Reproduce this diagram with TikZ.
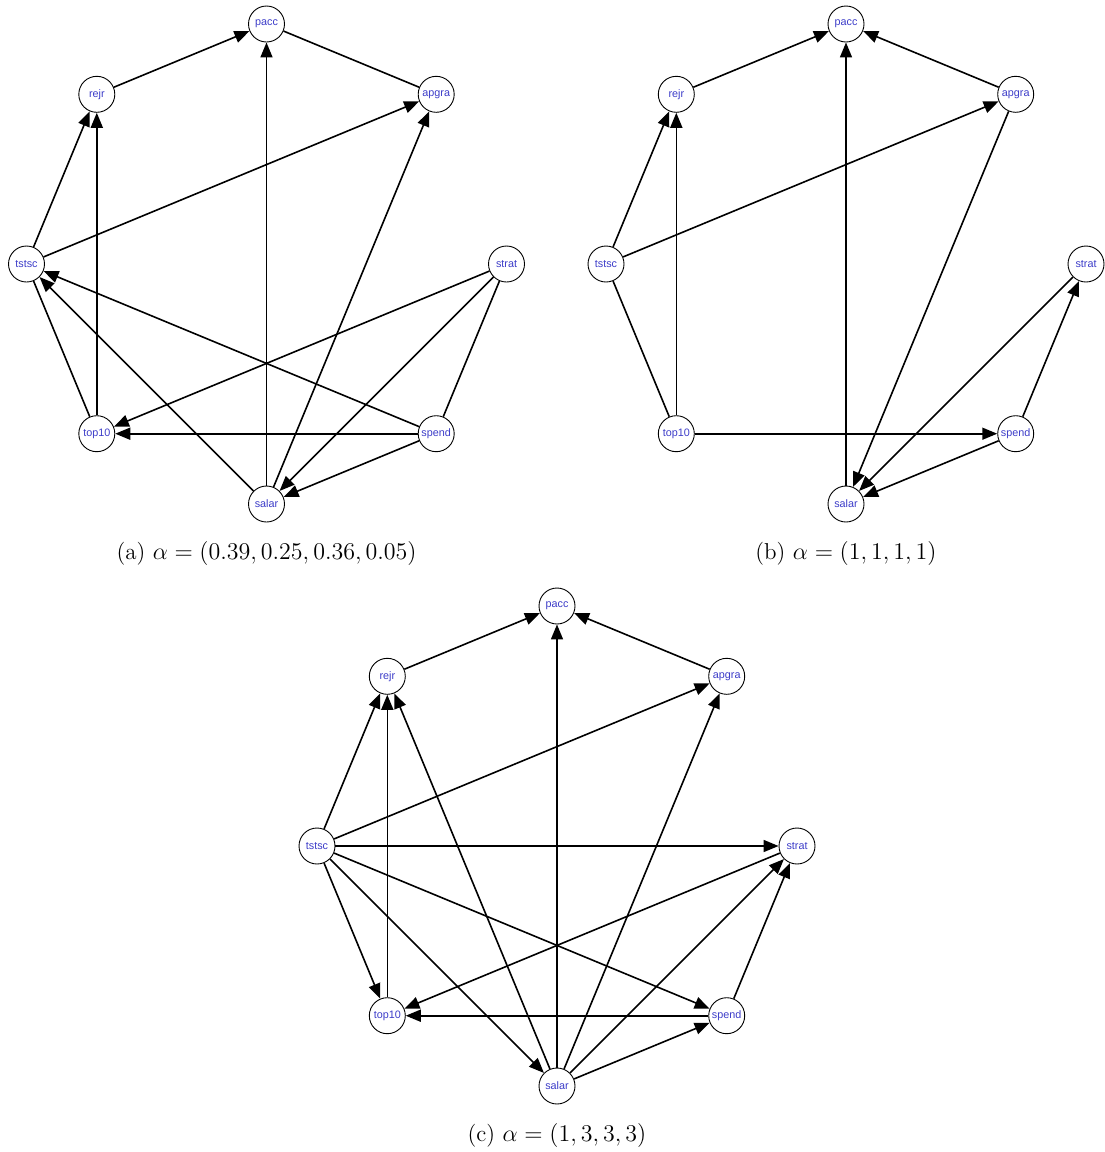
\documentclass[tikz,border=0pt]{standalone}
\usepackage{amsmath}
\usepackage{fontspec}
\newfontfamily\vertexfont{Liberation Sans}
\usepackage{xcolor}
\definecolor{vertexblue}{RGB}{60,60,200}
\usepackage{tikz}
\usetikzlibrary{arrows.meta}

\begin{document}
\begin{tikzpicture}[
    x=0.5pt, y=-0.5pt,
    vertex/.style={draw, circle, line width=0.45pt, minimum size=18pt, inner sep=0pt,
        text=vertexblue, font=\vertexfont\fontsize{5.4}{6.4}\selectfont},
    arc/.style={-{Triangle[length=7.5pt,width=6pt]}, line width=0.8pt},
    link/.style={line width=0.8pt},
    caption/.style={font=\fontsize{11.5}{13.8}\selectfont}
]
\useasboundingbox (0,0) rectangle (1104,1152);

% (a)
\begin{scope}[shift={(266.5,264)}]
\node[vertex] (pacc-a) at (0,-240) {pacc};
\node[vertex] (rejr-a) at (-169.7,-169.7) {rejr};
\node[vertex] (apgra-a) at (169.7,-169.7) {apgra};
\node[vertex] (tstsc-a) at (-240,0) {tstsc};
\node[vertex] (strat-a) at (240,0) {strat};
\node[vertex] (top10-a) at (-169.7,169.7) {top10};
\node[vertex] (spend-a) at (169.7,169.7) {spend};
\node[vertex] (salar-a) at (0,240) {salar};
\node[caption] (cap-a) at (0,289) {(a) $\alpha=(0.39,0.25,0.36,0.05)$};

\draw[arc] (rejr-a) -- (pacc-a);
\draw[link] (pacc-a) -- (apgra-a);
\draw[arc] (salar-a) -- (pacc-a);
\draw[arc] (tstsc-a) -- (rejr-a);
\draw[arc] (top10-a) -- (rejr-a);
\draw[arc] (tstsc-a) -- (apgra-a);
\draw[arc] (salar-a) -- (apgra-a);
\draw[arc] (spend-a) -- (tstsc-a);
\draw[arc] (salar-a) -- (tstsc-a);
\draw[link] (tstsc-a) -- (top10-a);
\draw[arc] (strat-a) -- (top10-a);
\draw[arc] (spend-a) -- (top10-a);
\draw[arc] (strat-a) -- (salar-a);
\draw[arc] (spend-a) -- (salar-a);
\draw[link] (strat-a) -- (spend-a);
\end{scope}

% (b)
\begin{scope}[shift={(846,264)}]
\node[vertex] (pacc-b) at (0,-240) {pacc};
\node[vertex] (rejr-b) at (-169.7,-169.7) {rejr};
\node[vertex] (apgra-b) at (169.7,-169.7) {apgra};
\node[vertex] (tstsc-b) at (-240,0) {tstsc};
\node[vertex] (strat-b) at (240,0) {strat};
\node[vertex] (top10-b) at (-169.7,169.7) {top10};
\node[vertex] (spend-b) at (169.7,169.7) {spend};
\node[vertex] (salar-b) at (0,240) {salar};
\node[caption] (cap-b) at (0,289) {(b) $\alpha=(1,1,1,1)$};

\draw[arc] (rejr-b) -- (pacc-b);
\draw[arc] (apgra-b) -- (pacc-b);
\draw[arc] (salar-b) -- (pacc-b);
\draw[arc] (tstsc-b) -- (rejr-b);
\draw[arc] (top10-b) -- (rejr-b);
\draw[arc] (tstsc-b) -- (apgra-b);
\draw[arc] (apgra-b) -- (salar-b);
\draw[link] (tstsc-b) -- (top10-b);
\draw[arc] (top10-b) -- (spend-b);
\draw[arc] (strat-b) -- (salar-b);
\draw[arc] (spend-b) -- (strat-b);
\draw[arc] (spend-b) -- (salar-b);
\end{scope}

% (c)
\begin{scope}[shift={(557,846)}]
\node[vertex] (pacc-c) at (0,-240) {pacc};
\node[vertex] (rejr-c) at (-169.7,-169.7) {rejr};
\node[vertex] (apgra-c) at (169.7,-169.7) {apgra};
\node[vertex] (tstsc-c) at (-240,0) {tstsc};
\node[vertex] (strat-c) at (240,0) {strat};
\node[vertex] (top10-c) at (-169.7,169.7) {top10};
\node[vertex] (spend-c) at (169.7,169.7) {spend};
\node[vertex] (salar-c) at (0,240) {salar};
\node[caption] (cap-c) at (0,289) {(c) $\alpha=(1,3,3,3)$};

\draw[arc] (rejr-c) -- (pacc-c);
\draw[arc] (apgra-c) -- (pacc-c);
\draw[arc] (salar-c) -- (pacc-c);
\draw[arc] (tstsc-c) -- (rejr-c);
\draw[arc] (top10-c) -- (rejr-c);
\draw[arc] (salar-c) -- (rejr-c);
\draw[arc] (tstsc-c) -- (apgra-c);
\draw[arc] (salar-c) -- (apgra-c);
\draw[arc] (tstsc-c) -- (strat-c);
\draw[arc] (strat-c) -- (top10-c);
\draw[arc] (salar-c) -- (strat-c);
\draw[arc] (spend-c) -- (strat-c);
\draw[arc] (tstsc-c) -- (top10-c);
\draw[arc] (tstsc-c) -- (salar-c);
\draw[arc] (tstsc-c) -- (spend-c);
\draw[arc] (spend-c) -- (top10-c);
\draw[arc] (salar-c) -- (spend-c);
\end{scope}
\end{tikzpicture}
\end{document}
